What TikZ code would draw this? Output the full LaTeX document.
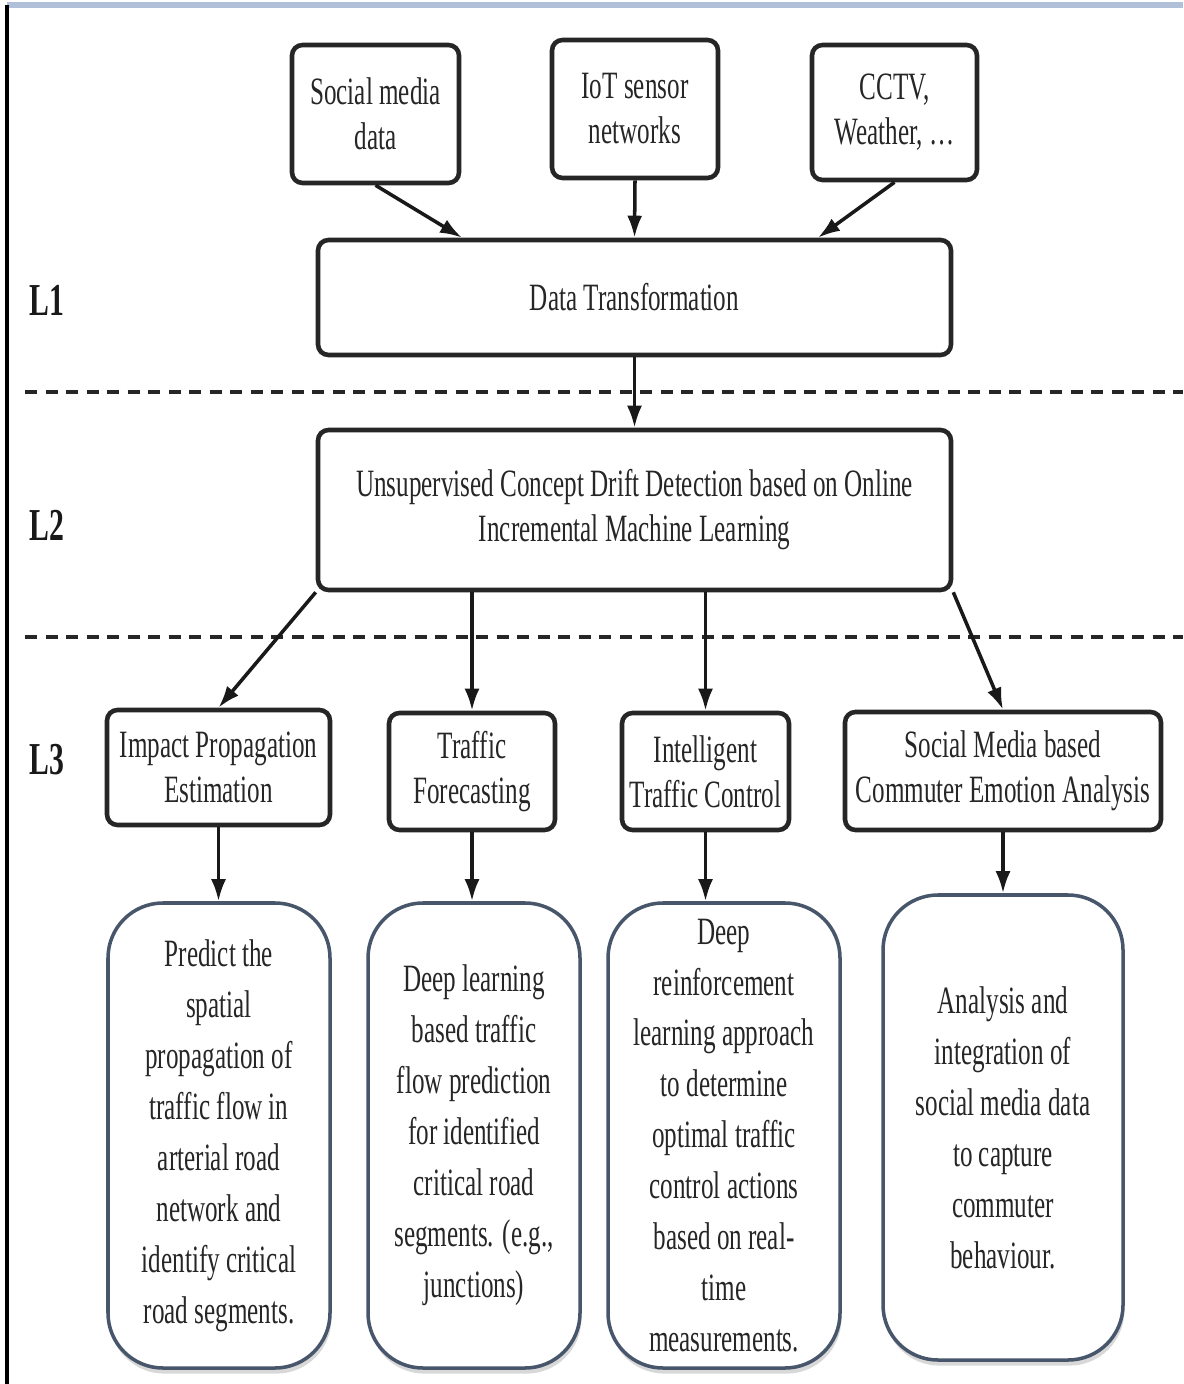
\documentclass[tikz,border=0pt]{standalone}
\usepackage{fontspec}
\setmainfont[FakeStretch=0.65]{Liberation Serif}
\usetikzlibrary{arrows.meta,shadows}

\definecolor{frameblue}{RGB}{176,192,216}
\definecolor{slate}{RGB}{72,86,108}

\tikzset{
  srcbox/.style={draw=black!85, line width=1.3pt, rounded corners=3pt, fill=white,
    align=center, inner sep=0pt, text=black!85, font=\fontsize{11}{12.8}\selectfont},
  descbox/.style={draw=slate, line width=1pt, rounded corners=0.55cm, fill=white,
    drop shadow={shadow xshift=0.4pt, shadow yshift=-1.6pt, fill=black!30},
    align=center, inner sep=0pt, text=black!85, font=\fontsize{11}{14.5}\selectfont},
  lvl/.style={font=\fontsize{13}{15}\selectfont\bfseries, text=black!90},
  layerline/.style={line width=1.4pt, black!85, dash pattern=on 0.12cm off 0.085cm},
  flow/.style={->, line width=1pt, black!90}
}

\begin{document}
\begin{tikzpicture}[>={Latex[length=2.2mm,width=1.5mm]}]
\useasboundingbox (0,0) rectangle (11.83,-13.84);
\draw[frameblue, line width=1.5pt] (0.07,-0.05) -- (11.83,-0.05);
\draw[black, line width=1.3pt] (0.07,-0.05) -- (0.07,-13.84);
\draw[layerline] (0.25,-3.92) -- (11.83,-3.92);
\draw[layerline] (0.25,-6.37) -- (11.83,-6.37);

\node[lvl] (l1) at (0.47,-3.0) {L1};
\node[lvl] (l2) at (0.47,-5.25) {L2};
\node[lvl] (l3) at (0.47,-7.6) {L3};

% sources
\node[srcbox, minimum width=1.67cm, minimum height=1.38cm] (social) at (3.755,-1.14) {Social media\\data};
\node[srcbox, minimum width=1.66cm, minimum height=1.38cm] (iot) at (6.35,-1.09) {IoT sensor\\networks};
\node[srcbox, minimum width=1.65cm, minimum height=1.35cm] (cctv) at (8.945,-1.125) {CCTV,\\Weather, \ldots};
\node[srcbox, minimum width=6.33cm, minimum height=1.15cm] (dt) at (6.345,-2.975) {Data Transformation};
\node[srcbox, minimum width=6.33cm, minimum height=1.6cm] (ucd) at (6.345,-5.1)
  {Unsupervised Concept Drift Detection based on Online\\Incremental Machine Learning};

% applications
\node[srcbox, minimum width=2.23cm, minimum height=1.15cm] (ipe) at (2.185,-7.675) {Impact Propagation\\Estimation};
\node[srcbox, minimum width=1.66cm, minimum height=1.17cm] (tf) at (4.72,-7.715) {Traffic\\Forecasting};
\node[srcbox, minimum width=1.67cm, minimum height=1.17cm] (itc) at (7.055,-7.715) {Intelligent\\Traffic Control};
\node[srcbox, minimum width=3.16cm, minimum height=1.18cm] (smb) at (10.03,-7.71) {Social Media based\\Commuter Emotion Analysis};

% descriptions
\node[descbox, minimum width=2.22cm, minimum height=4.65cm] (ipedesc) at (2.19,-11.355)
  {Predict the\\spatial\\propagation of\\traffic flow in\\arterial road\\network and\\identify critical\\road segments.};
\node[descbox, minimum width=2.12cm, minimum height=4.65cm] (tfdesc) at (4.74,-11.355)
  {Deep learning\\based traffic\\flow prediction\\for identified\\critical road\\segments. (e.g.,\\junctions)};
\node[descbox, minimum width=2.32cm, minimum height=4.65cm] (itcdesc) at (7.24,-11.355)
  {Deep\\reinforcement\\learning approach\\to determine\\optimal traffic\\control actions\\based on real-\\time\\measurements.};
\node[descbox, minimum width=2.4cm, minimum height=4.65cm] (smbdesc) at (10.03,-11.275)
  {Analysis and\\integration of\\social media data\\to capture\\commuter\\behaviour.};

\draw[flow] (social.south) -- ([xshift=-1.725cm]dt.north);
\draw[flow] (iot.south) -- (dt.north);
\draw[flow] (cctv.south) -- ([xshift=1.835cm]dt.north);
\draw[flow] (dt.south) -- (ucd.north);
\draw[flow] (ucd.south west) -- (ipe.north);
\draw[flow] (tf.north |- ucd.south) -- (tf.north);
\draw[flow] (itc.north |- ucd.south) -- (itc.north);
\draw[flow] (ucd.south east) -- (smb.north);
\draw[flow] (ipe.south) -- (ipe.south |- ipedesc.north);
\draw[flow] (tf.south) -- (tf.south |- tfdesc.north);
\draw[flow] (itc.south) -- (itc.south |- itcdesc.north);
\draw[flow] (smb.south) -- (smb.south |- smbdesc.north);
\end{tikzpicture}
\end{document}
